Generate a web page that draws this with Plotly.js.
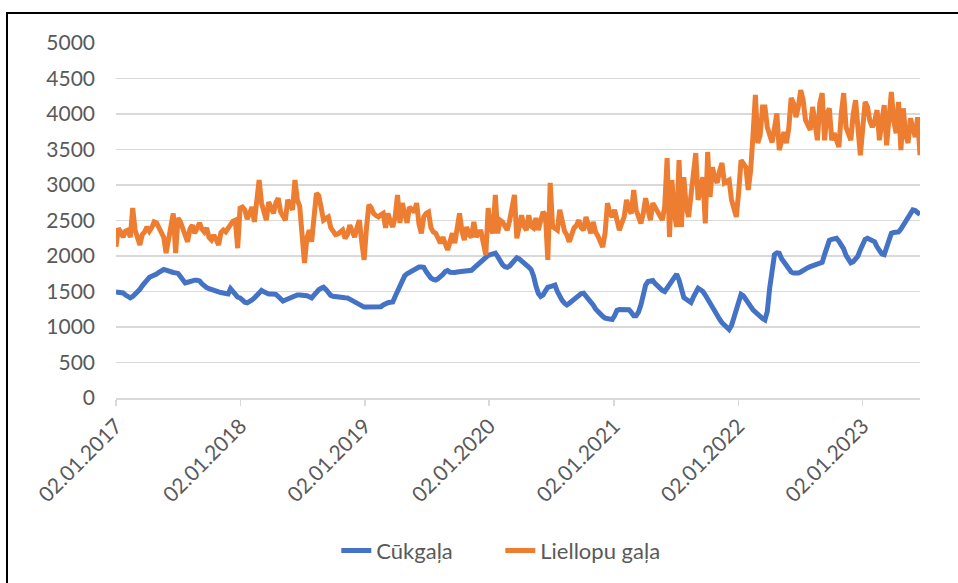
<!DOCTYPE html>
<html>
<head>
<meta charset="utf-8">
<script src="https://cdn.plot.ly/plotly-3.0.1.min.js"></script>
<style>
  html, body { margin: 0; padding: 0; background: #ffffff; overflow: hidden; }
  #chart { width: 958px; height: 583px; }
  #frame { position: absolute; left: 6px; top: 12px; width: 1000px; height: 600px;
           border-left: 2px solid #000; border-top: 2px solid #000; pointer-events: none; }
</style>
</head>
<body>
<div id="chart"></div>
<div id="frame"></div>
<script>
// Weekly observations starting on this date
const startDate = '2017-01-02';

const seriesNames = ['Cūkgaļa', 'Liellopu gaļa'];

const tickDates = ['2017-01-02','2018-01-02','2019-01-02','2020-01-02','2021-01-02','2022-01-02','2023-01-02'];
const tickLabels = ['02.01.2017','02.01.2018','02.01.2019','02.01.2020','02.01.2021','02.01.2022','02.01.2023'];

// Cūkgaļa (pork), weekly
const pork2017 = [1495,1490,1485,1480,1450,1425,1410,1430,1460,1490,1530,1580,1610,1660,1700,1710,1725,1745,1770,1795,
  1810,1800,1785,1772,1768,1762,1755,1710,1660,1620,1630,1645,1660,1660,1660,1650,1610,1575,1555,1540,
  1525,1518,1505,1495,1485,1478,1470,1465,1540,1500,1455,1420];
const pork2018 = [1410,1370,1350,1340,1355,1380,1410,1440,1480,1515,1495,1470,1465,1465,1465,1460,1430,1395,1365,1380,
  1395,1410,1425,1445,1450,1450,1450,1450,1440,1425,1410,1450,1495,1525,1545,1560,1530,1480,1445,1432,
  1425,1420,1420,1415,1412,1410,1390,1370,1355,1330,1305,1285];
const pork2019 = [1280,1280,1280,1280,1280,1280,1280,1285,1310,1335,1342,1348,1353,1430,1500,1590,1680,1720,1750,1770,
  1790,1825,1845,1845,1845,1840,1780,1720,1690,1670,1662,1680,1700,1740,1780,1795,1770,1760,1768,1775,
  1778,1782,1786,1790,1795,1798,1830,1860,1890,1920,1960,1990];
const pork2020 = [2010,2020,2035,2040,1990,1930,1880,1850,1840,1860,1900,1945,1975,1960,1935,1910,1880,1845,1810,1720,
  1580,1475,1430,1450,1510,1560,1570,1580,1590,1500,1420,1375,1335,1310,1335,1365,1395,1425,1450,1470,
  1475,1440,1400,1360,1310,1255,1215,1185,1150,1125,1115,1105];
const pork2021 = [1105,1160,1235,1245,1248,1250,1248,1242,1205,1160,1160,1210,1310,1450,1590,1640,1648,1655,1610,1570,
  1540,1515,1500,1550,1620,1665,1710,1745,1660,1500,1415,1390,1365,1345,1420,1500,1545,1525,1500,1450,
  1390,1320,1270,1220,1160,1110,1060,1020,985,965,1020,1130];
const pork2022 = [1230,1340,1460,1440,1380,1340,1290,1240,1205,1185,1140,1120,1100,1220,1550,1850,2020,2045,2040,1960,
  1910,1860,1810,1775,1760,1758,1760,1775,1800,1825,1835,1850,1860,1865,1875,1890,1910,2020,2150,2220,
  2235,2245,2250,2210,2160,2100,2010,1940,1905,1920,1960,2000,2090];
const pork2023 = [2180,2235,2250,2230,2215,2200,2130,2060,2030,2020,2120,2240,2320,2330,2335,2340,2380,2440,2480,2540,
  2600,2650,2640,2600,2585];

// Liellopu gaļa (beef), weekly
const beef2017 = [2130,2390,2340,2265,2350,2365,2265,2675,2365,2250,2155,2300,2340,2410,2350,2400,2480,2465,2400,2340,
  2265,2040,2265,2400,2600,2040,2535,2480,2395,2300,2200,2380,2435,2320,2420,2465,2380,2340,2395,2260,
  2225,2295,2230,2155,2330,2365,2340,2400,2465,2490,2505,2110];
const beef2018 = [2675,2690,2650,2520,2600,2690,2480,2800,3070,2745,2600,2505,2760,2680,2600,2750,2815,2620,2560,2505,
  2790,2700,2650,3070,2790,2700,2300,1900,2250,2365,2200,2550,2885,2850,2700,2505,2530,2550,2400,2340,
  2300,2310,2340,2365,2250,2300,2435,2350,2265,2400,2505,2200];
const beef2019 = [1945,2400,2720,2680,2600,2570,2550,2580,2600,2395,2600,2480,2410,2550,2860,2465,2745,2600,2465,2690,
  2650,2620,2745,2450,2320,2550,2600,2620,2400,2340,2320,2250,2180,2265,2180,2085,2200,2320,2180,2400,
  2600,2350,2225,2410,2300,2265,2480,2265,2340,2340,2150,2015];
const beef2020 = [2675,2400,2320,2860,2320,2505,2480,2435,2365,2500,2700,2860,2250,2400,2575,2420,2365,2575,2420,2395,
  2535,2365,2500,2620,2575,1945,3030,2410,2390,2365,2650,2480,2350,2295,2200,2300,2395,2430,2505,2400,
  2365,2550,2400,2320,2480,2340,2280,2200,2125,2320,2745,2600];
const beef2021 = [2550,2650,2500,2365,2465,2550,2790,2650,2600,2930,2650,2560,2460,2600,2815,2650,2505,2745,2680,2600,
  2550,2505,2700,3380,2270,3070,2600,2410,3350,2410,3110,2700,2550,2900,3200,3450,2790,3000,3110,2460,
  3465,2830,3250,3100,3030,3200,3310,3030,3050,3070,2790,2650];
const beef2022 = [2550,2900,3350,3300,3250,2930,3200,3700,4270,3590,3700,4100,4100,3815,3700,3600,3800,4010,3490,3650,
  3745,3590,3800,4225,4150,3955,4100,4335,4200,3915,3850,3775,4100,3850,3630,4150,4295,3630,4000,4080,
  3630,3730,3650,3535,4000,4295,3815,3700,3630,4000,4195,3800,3420];
const beef2023 = [3800,4170,4100,3900,3815,3900,4055,3630,3900,4125,3560,3950,4310,3900,3730,4170,3490,4080,3700,3590,
  3940,3800,3675,3955,3420];

const pork = [].concat(pork2017, pork2018, pork2019, pork2020, pork2021, pork2022, pork2023);
const beef = [].concat(beef2017, beef2018, beef2019, beef2020, beef2021, beef2022, beef2023);

function weeklyDates(start, n) {
  const out = [];
  const d0 = new Date(start + 'T00:00:00Z');
  for (let i = 0; i < n; i++) {
    const d = new Date(d0.getTime() + i * 7 * 86400000);
    out.push(d.toISOString().slice(0, 10));
  }
  return out;
}
const dates = weeklyDates(startDate, pork.length);

const fontFam = 'Lato, "Open Sans", sans-serif';
const textColor = '#595959';

const traces = [
  { x: dates, y: pork, name: seriesNames[0], type: 'scatter', mode: 'lines',
    line: { color: '#4472C4', width: 5, shape: 'linear' } },
  { x: dates, y: beef, name: seriesNames[1], type: 'scatter', mode: 'lines',
    line: { color: '#ED7D31', width: 5, shape: 'linear' } }
];

const layout = {
  width: 958, height: 583,
  margin: { l: 116, r: 38, t: 43, b: 185, pad: 0 },
  paper_bgcolor: '#ffffff', plot_bgcolor: '#ffffff',
  font: { family: fontFam, size: 21, color: textColor },
  showlegend: true,
  legend: { orientation: 'h', x: 0.274, xanchor: 'left', y: -0.43, yanchor: 'middle',
            font: { family: fontFam, size: 22, color: textColor }, itemwidth: 30,
            entrywidth: 119, entrywidthmode: 'pixels',
            bgcolor: 'rgba(0,0,0,0)' },
  xaxis: {
    type: 'date',
    range: [dates[0], dates[dates.length - 1]],
    tickmode: 'array', tickvals: tickDates, ticktext: tickLabels,
    tickangle: -45,
    showgrid: false, zeroline: false,
    showline: true, linecolor: '#d9d9d9', linewidth: 1.5,
    ticks: 'outside', ticklen: 6, tickcolor: '#d9d9d9', tickwidth: 1.5,
    tickfont: { family: fontFam, size: 21, color: textColor },
    fixedrange: true
  },
  yaxis: {
    range: [0, 5000], dtick: 500, tick0: 0,
    showgrid: true, gridcolor: '#d9d9d9', gridwidth: 1.5,
    zeroline: false, showline: false, ticks: '',
    ticklabelstandoff: 20,
    tickfont: { family: fontFam, size: 21, color: textColor },
    fixedrange: true
  }
};

Plotly.newPlot('chart', traces, layout, { displayModeBar: false, staticPlot: true });
</script>
</body>
</html>
